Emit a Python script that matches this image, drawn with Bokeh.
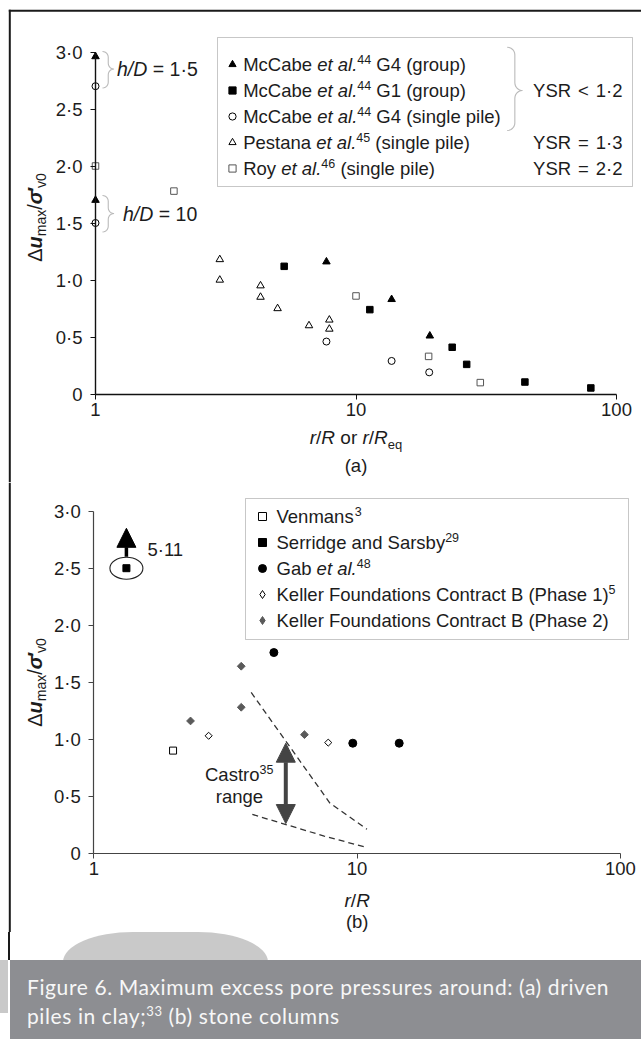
import math
from bokeh.plotting import figure
from bokeh.models import (LogAxis, LinearAxis, FixedTicker, CustomJSTickFormatter, Label,
                          BoxAnnotation, PolyAnnotation, Legend, LegendItem, Arrow,
                          NormalHead, Range1d, Div)
from bokeh.layouts import column
from bokeh.embed import file_html
from bokeh.resources import INLINE

# ---------------- data: panel (a) driven piles in clay ----------------
g4_group_r = [1.0, 1.0, 7.7, 13.7, 19.2]
g4_group_du = [2.96, 1.70, 1.16, 0.83, 0.51]
g1_group_r = [5.3, 11.3, 23.4, 26.6, 44.5, 79.7]
g1_group_du = [1.12, 0.74, 0.41, 0.26, 0.105, 0.053]
g4_single_r = [1.0, 1.0, 7.7, 13.7, 19.1]
g4_single_du = [2.70, 1.50, 0.46, 0.29, 0.19]
pestana_r = [3.0, 3.0, 4.3, 4.3, 5.0, 6.6, 7.9, 7.9]
pestana_du = [1.18, 1.00, 0.95, 0.85, 0.75, 0.60, 0.65, 0.57]
roy_r = [1.0, 2.0, 10.0, 19.0, 30.0]
roy_du = [2.00, 1.78, 0.86, 0.33, 0.10]

# ---------------- data: panel (b) stone columns ----------------
venmans_r = [2.0]
venmans_du = [0.90]
serridge_r = [1.33]
serridge_du = [2.50]
serridge_arrow_du = [2.60, 2.85]      # arrow pointing to off-scale value 5·11
gab_r = [4.83, 9.63, 14.45]
gab_du = [1.76, 0.965, 0.965]
keller1_r = [2.73, 7.77]
keller1_du = [1.03, 0.97]
keller2_r = [2.33, 3.63, 3.63, 6.31]
keller2_du = [1.16, 1.64, 1.28, 1.04]
castro_upper_r = [3.96, 7.88, 10.9]
castro_upper_du = [1.41, 0.44, 0.21]
castro_lower_r = [4.0, 7.5, 10.9]
castro_lower_du = [0.34, 0.15, 0.05]
castro_arrow_r = [5.36]
castro_arrow_du = [0.26, 0.965]

x_ticks = [1, 10, 100]
y_ticks = [0, 0.5, 1.0, 1.5, 2.0, 2.5, 3.0]

# ---------------- text helpers ----------------
FONT = "Liberation Sans"
INK = "#1c1c1c"
PAGE_W = 641
MID = 0.3465   # middle of the em box above the baseline, in em

_W = {' ': 278, '(': 333, ')': 333, '.': 278, ',': 278, '/': 278, ';': 278, ':': 278,
      '=': 584, '<': 584, '\u00b7': 278, '\u2032': 191, '\u0394': 668, '\u03c3': 578}
for _d in "0123456789":
    _W[_d] = 556
_W.update(zip("ABCDEFGHIJKLMNOPQRSTUVWXYZ",
              [667, 667, 722, 722, 667, 611, 778, 722, 278, 500, 667, 556, 833, 722, 778,
               667, 778, 722, 667, 611, 722, 667, 944, 667, 667, 611]))
_W.update(zip("abcdefghijklmnopqrstuvwxyz",
              [556, 556, 500, 556, 556, 278, 556, 556, 222, 222, 500, 222, 833, 556, 556,
               556, 556, 333, 500, 278, 556, 500, 722, 500, 500, 500]))
_WB = dict(_W)
_WB.update({'u': 611, '\u03c3': 620})


def tw(text, size, style="normal"):
    table = _WB if "bold" in style else _W
    return sum(table.get(c, 556) for c in text) * size / 1000.0


class Panel:
    """A figure whose frame fills its canvas; page pixel helpers for annotations."""

    def __init__(self, top, bottom, x1px, dec, y0px, unit, axis_color, axis_w):
        self.FL, self.FB = 0, bottom
        xr = Range1d(10 ** ((0 - x1px) / dec), 10 ** ((PAGE_W - x1px) / dec))
        yr = Range1d((y0px - bottom) / unit, (y0px - top) / unit)
        p = figure(width=PAGE_W, height=bottom - top, x_axis_type="log", x_range=xr, y_range=yr,
                   x_axis_location=None, y_axis_location=None, toolbar_location=None,
                   output_backend="svg", min_border_left=0, min_border_right=0,
                   min_border_top=0, min_border_bottom=0)
        p.xgrid.grid_line_color = None
        p.ygrid.grid_line_color = None
        p.outline_line_color = None
        p.background_fill_color = "white"
        p.border_fill_color = "white"
        xa = LogAxis(fixed_location=0, bounds=(1, 100), ticker=FixedTicker(ticks=x_ticks),
                     formatter=CustomJSTickFormatter(code="return tick.toFixed(0);"))
        ya = LinearAxis(fixed_location=1, bounds=(0, 3), ticker=FixedTicker(ticks=y_ticks),
                        formatter=CustomJSTickFormatter(
                            code="return tick === 0 ? '0' : tick.toFixed(1).replace('.', '\u00b7');"))
        for ax in (xa, ya):
            ax.axis_line_color = axis_color
            ax.axis_line_width = axis_w
            ax.major_tick_line_color = axis_color
            ax.major_tick_line_width = 1
            ax.major_tick_in = 0
            ax.major_tick_out = 5
            ax.minor_tick_line_color = None
            ax.major_label_text_font = FONT
            ax.major_label_text_font_size = "18.5px"
            ax.major_label_text_color = INK
        xa.major_label_standoff = 4
        ya.major_label_standoff = 8
        p.add_layout(xa, "below")
        p.add_layout(ya, "left")
        self.p = p

    def label(self, x, y, text, size, style="normal", align="left", angle=0.0, color=INK):
        self.p.add_layout(Label(x=x - self.FL, y=self.FB - y, x_units="screen", y_units="screen",
                                text=text, text_font=FONT, text_font_size=f"{size}px",
                                text_font_style=style, text_color=color, text_align=align,
                                text_baseline="middle", text_line_height=1.0, angle=angle))

    @staticmethod
    def _split(t, s, st):
        core = t.lstrip(' ')
        lead = tw(t[:len(t) - len(core)], s, st)
        return lead, core.rstrip(' ')

    def runs_h(self, runs, x, yc, align="left"):
        total = sum(tw(t, s, st) for t, s, st, dy in runs)
        if align == "center":
            x -= total / 2
        elif align == "right":
            x -= total
        base = yc + 0.358 * runs[0][1]
        for t, s, st, dy in runs:
            lead, core = self._split(t, s, st)
            if core:
                self.label(x + lead, base - dy - MID * s, core, s, st)
            x += tw(t, s, st)

    def runs_v(self, runs, xb, yc):
        total = sum(tw(t, s, st) for t, s, st, dy in runs)
        y = yc + total / 2
        for t, s, st, dy in runs:
            lead, core = self._split(t, s, st)
            if core:
                self.label(xb - dy - MID * s, y - lead, core, s, st, angle=math.pi / 2)
            y -= tw(t, s, st)

    def box(self, l, t, r, b, fill="white", line="#444", lw=1.0, alpha=1.0):
        self.p.add_layout(BoxAnnotation(left=l - self.FL, right=r - self.FL,
                                        top=self.FB - t, bottom=self.FB - b,
                                        left_units="screen", right_units="screen",
                                        top_units="screen", bottom_units="screen",
                                        fill_color=fill, fill_alpha=alpha,
                                        line_color=line, line_width=lw))

    def brace(self, x0, xt, yt, yb, ym, color=INK, lw=1.1):
        r = (xt - x0) / 2.0
        pts = []
        for k in range(7):
            th = -math.pi / 2 + (math.pi / 2) * k / 6
            pts.append((x0 + r * math.cos(th), yt + r + r * math.sin(th)))
        for k in range(7):
            th = math.pi - (math.pi / 2) * k / 6
            pts.append((xt + r * math.cos(th), ym - r + r * math.sin(th)))
        for k in range(7):
            th = -math.pi / 2 - (math.pi / 2) * k / 6
            pts.append((xt + r * math.cos(th), ym + r + r * math.sin(th)))
        for k in range(7):
            th = (math.pi / 2) * k / 6
            pts.append((x0 + r * math.cos(th), yb - r + r * math.sin(th)))
        path = pts + pts[-2:0:-1]
        self.p.add_layout(PolyAnnotation(xs=[q[0] - self.FL for q in path],
                                         ys=[self.FB - q[1] for q in path],
                                         xs_units="screen", ys_units="screen",
                                         fill_alpha=0, line_color=color, line_width=lw))

    def keys(self, renderers, key_x, row0, pitch, glyph_w):
        top = row0 - pitch / 2.0
        bottom = top + len(renderers) * pitch
        leg = Legend(items=[LegendItem(label=" ", renderers=[r]) for r in renderers],
                     location=(key_x - glyph_w / 2.0 - self.FL, self.FB - bottom),
                     orientation="vertical", padding=0, spacing=0, margin=0,
                     glyph_width=glyph_w, glyph_height=pitch, label_height=pitch,
                     label_width=1, label_standoff=0, label_text_font_size="2px",
                     border_line_alpha=0, background_fill_alpha=0)
        self.p.add_layout(leg)


LS = 18.5   # legend / annotation font size
SUP = 12.5
GAP = 25    # size whose space width gives the wider math spacing around = and <


def ysr(op, val):
    return [("YSR", LS, "normal", 0), (" ", GAP, "normal", 0), (op, LS, "normal", 0),
            (" ", GAP, "normal", 0), (val, LS, "normal", 0)]


# ======================= panel (a) =======================
A = Panel(top=0, bottom=482, x1px=95.0, dec=260.5, y0px=393.5, unit=114.0,
          axis_color="#111", axis_w=1.4)
pa = A.p
# frame border of the whole figure
A.box(8.3, 9.3, 700, 11.3, fill="#1a1a1a", line=None)
A.box(8.3, 9.3, 10.3, 482, fill="#1a1a1a", line=None)

r_g4g = pa.scatter(g4_group_r, g4_group_du, marker="triangle", size=7.5,
                   fill_color="black", line_color="black")
r_g1g = pa.scatter(g1_group_r, g1_group_du, marker="square", size=6.5,
                   fill_color="black", line_color="black")
r_g4s = pa.scatter(g4_single_r, g4_single_du, marker="circle", size=7,
                   fill_color="white", line_color="black", line_width=1)
r_pes = pa.scatter(pestana_r, pestana_du, marker="triangle", size=7.5,
                   fill_color="white", line_color="black", line_width=1)
r_roy = pa.scatter(roy_r, roy_du, marker="square", size=6.5,
                   fill_color="white", line_color="#555", line_width=1)

# legend (a)
A.box(217, 37, 632, 186, fill="white", line="#444", lw=1)
A.keys([r_g4g, r_g1g, r_g4s, r_pes, r_roy], key_x=231.7, row0=64, pitch=26, glyph_w=18)
rows_a = [
    [("McCabe ", LS, "normal", 0), ("et al.", LS, "italic", 0), ("44", SUP, "normal", 7), (" G4 (group)", LS, "normal", 0)],
    [("McCabe ", LS, "normal", 0), ("et al.", LS, "italic", 0), ("44", SUP, "normal", 7), (" G1 (group)", LS, "normal", 0)],
    [("McCabe ", LS, "normal", 0), ("et al.", LS, "italic", 0), ("44", SUP, "normal", 7), (" G4 (single pile)", LS, "normal", 0)],
    [("Pestana ", LS, "normal", 0), ("et al.", LS, "italic", 0), ("45", SUP, "normal", 7), (" (single pile)", LS, "normal", 0)],
    [("Roy ", LS, "normal", 0), ("et al.", LS, "italic", 0), ("46", SUP, "normal", 7), (" (single pile)", LS, "normal", 0)],
]
for i, runs in enumerate(rows_a):
    A.runs_h(runs, 242.7, 64 + 26 * i)
A.brace(506.7, 522.0, 46.7, 130.0, 90.0)
A.runs_h(ysr("<", "1\u00b72"), 621, 90, align="right")
A.runs_h(ysr("=", "1\u00b73"), 621, 142, align="right")
A.runs_h(ysr("=", "2\u00b72"), 621, 168, align="right")

# h/D annotations
A.brace(102.0, 113.5, 51.0, 87.5, 68.5)
A.runs_h([("h/D", 19.5, "italic", 0), (" = 1\u00b75", 19.5, "normal", 0)], 116.5, 68.5)
A.brace(102.0, 113.5, 195.0, 231.5, 213.0)
A.runs_h([("h/D", 19.5, "italic", 0), (" = 10", 19.5, "normal", 0)], 122.5, 213.0)

# axis titles (a)
ytitle = [("\u0394", 20, "normal", 0), ("u", 20, "bold italic", 0), ("max", 14, "normal", -4),
          ("/", 20, "normal", 0), ("\u03c3", 20, "bold italic", 0), ("\u2032", 20, "bold", 0),
          ("v0", 14, "normal", -4)]
A.runs_v(ytitle, 41.5, 217.0)
A.runs_h([("r", 19, "italic", 0), ("/", 19, "normal", 0), ("R", 19, "italic", 0),
          (" or ", 19, "normal", 0), ("r", 19, "italic", 0), ("/", 19, "normal", 0),
          ("R", 19, "italic", 0), ("eq", 13, "normal", -4.5)], 355.5, 437, align="center")
A.runs_h([("(a)", 18.5, "normal", 0)], 355.5, 465, align="center")

# ======================= panel (b) =======================
B = Panel(top=482, bottom=932, x1px=93.3, dec=263.3, y0px=852.7, unit=114.0,
          axis_color="#444", axis_w=1.2)
pb = B.p
B.box(8.3, 482, 10.3, 932, fill="#1a1a1a", line=None)

pb.line(castro_upper_r, castro_upper_du, line_dash="6 4", line_color="#333", line_width=1.3)
pb.line(castro_lower_r, castro_lower_du, line_dash="6 4", line_color="#333", line_width=1.3)
pb.ellipse(x=serridge_r, y=serridge_du, width=33, height=22, width_units="screen",
           height_units="screen", fill_color=None, line_color="#222", line_width=1.1)
r_ven = pb.scatter(venmans_r, venmans_du, marker="square", size=7,
                   fill_color="white", line_color="black", line_width=1)
r_ser = pb.scatter(serridge_r, serridge_du, marker="square", size=7,
                   fill_color="black", line_color="black")
r_gab = pb.scatter(gab_r, gab_du, marker="circle", size=8,
                   fill_color="black", line_color="black")
pb.scatter(keller1_r, keller1_du, marker="square", angle=math.pi / 4, size=5,
           fill_color="white", line_color="black", line_width=1)
pb.scatter(keller2_r, keller2_du, marker="square", angle=math.pi / 4, size=5.5,
           fill_color="#5a5a5a", line_color="#5a5a5a")
# hidden twins used only for the legend keys (legend keys are drawn unrotated)
k1_key = pb.scatter(keller1_r, keller1_du, marker="diamond", size=8, fill_color="white",
                    line_color="black", line_width=1, visible=False)
k2_key = pb.scatter(keller2_r, keller2_du, marker="diamond", size=8, fill_color="#5a5a5a",
                    line_color="#5a5a5a", visible=False)

pb.add_layout(Arrow(end=NormalHead(size=19, fill_color="black", line_color="black"),
                    x_start=serridge_r[0], y_start=serridge_arrow_du[0],
                    x_end=serridge_r[0], y_end=serridge_arrow_du[1],
                    line_width=3.5, line_color="black"))
pb.add_layout(Arrow(start=NormalHead(size=19, fill_color="#444", line_color="#444"),
                    end=NormalHead(size=19, fill_color="#444", line_color="#444"),
                    x_start=castro_arrow_r[0], y_start=castro_arrow_du[0],
                    x_end=castro_arrow_r[0], y_end=castro_arrow_du[1],
                    line_width=4, line_color="#444"))
B.runs_h([("5\u00b711", LS, "normal", 0)], 147, 549)
B.runs_h([("Castro", LS, "normal", 0), ("35", SUP, "normal", 7)], 204.5, 773.5)
B.runs_h([("range", LS, "normal", 0)], 239, 795.5, align="center")

# legend (b)
B.box(245, 498, 628, 639, fill="white", line="#444", lw=1)
B.keys([r_ven, r_ser, r_gab, k1_key, k2_key], key_x=261.7, row0=516, pitch=26, glyph_w=20)
rows_b = [
    [("Venmans", LS, "normal", 0), ("3", SUP, "normal", 7)],
    [("Serridge and Sarsby", LS, "normal", 0), ("29", SUP, "normal", 7)],
    [("Gab ", LS, "normal", 0), ("et al.", LS, "italic", 0), ("48", SUP, "normal", 7)],
    [("Keller Foundations Contract B (Phase 1)", LS, "normal", 0), ("5", SUP, "normal", 7)],
    [("Keller Foundations Contract B (Phase 2)", LS, "normal", 0)],
]
for i, runs in enumerate(rows_b):
    B.runs_h(runs, 276, 516 + 26 * i)

B.runs_v(ytitle, 41.0, 682.0)
B.runs_h([("r", 19, "italic", 0), ("/", 19, "normal", 0), ("R", 19, "italic", 0)],
         356.7, 900, align="center")
B.runs_h([("(b)", 18.5, "normal", 0)], 356.7, 921, align="center")

# ======================= caption =======================
caption_html = (
    '<div style="position:relative;width:641px;height:107px;overflow:hidden;">'
    '<div style="position:absolute;left:8.3px;top:0;width:2px;height:28px;background:#1a1a1a;"></div>'
    '<div style="position:absolute;left:0;top:28px;width:8px;height:53px;background:#c9c9c9;"></div>'
    '<div style="position:absolute;left:63px;top:0;width:205px;height:80px;background:#c9c9c9;'
    'border-radius:70px 70px 0 0 / 30px 30px 0 0;"></div>'
    '<div style="position:absolute;left:10px;top:28px;width:631px;height:79px;background:#8d8e92;"></div>'
    '<div style="position:absolute;left:27px;top:39.5px;color:#f7f7f7;font-family:Lato, \'Open Sans\', sans-serif;'
    'font-size:21px;letter-spacing:0.6px;line-height:29px;white-space:nowrap;">'
    'Figure 6. Maximum excess pore pressures around: (a) driven<br>'
    'piles in clay;<sup style="font-size:13px;line-height:0;">33</sup> (b) stone columns</div>'
    '</div>'
)
cap = Div(text=caption_html, width=PAGE_W, height=107, margin=(0, 0, 0, 0))

layout = column(pa, pb, cap, spacing=0)
open("out.html", "w").write(file_html(layout, INLINE))
